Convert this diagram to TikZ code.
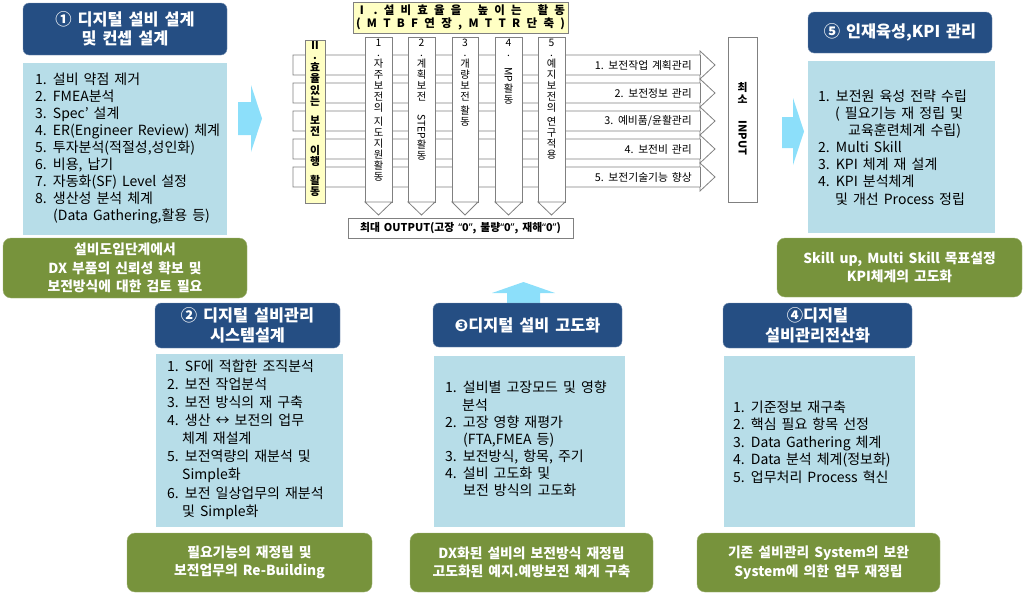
\documentclass[tikz,border=0pt]{standalone}
\usepackage{fontspec}
\setmainfont[WordSpace=1.6]{Noto Sans CJK KR}
\newfontfamily\dejavu{DejaVu Sans}
\newfontfamily\latinq{Noto Sans}
\definecolor{hdrblue}{RGB}{37,78,131}
\definecolor{boxblue}{RGB}{183,221,232}
\definecolor{grn}{RGB}{119,147,60}
\definecolor{cyanarr}{RGB}{140,223,250}
\definecolor{yel}{RGB}{255,255,196}
\definecolor{lgray}{RGB}{128,128,128}
\newcommand{\gp}{\hspace{0pt plus 1fil}}
\newcommand{\wg}{\hspace{0pt plus 2.6fil}}
\tikzset{
  hdr/.style={fill=hdrblue, draw=hdrblue!60!white, rounded corners=6pt, text=white,
    font=\fontsize{16.3}{19.5}\selectfont\bfseries, align=center, inner sep=0},
  bluebox/.style={fill=boxblue, draw=white, inner sep=0},
  grnbox/.style={fill=grn, draw=grn!70!white, rounded corners=8pt, text=white,
    font=\fontsize{13.8}{18.5}\selectfont\bfseries, align=center, inner sep=0},
  body/.style={align=left, anchor=west, inner sep=0, font=\fontsize{14}{17.1}\selectfont},
  flow/.style={draw=lgray, fill=white, line width=0.8pt},
  coltext/.style={align=center, anchor=north, inner sep=0, font=\fontsize{10.3}{11}\selectfont},
  barlabel/.style={anchor=east, inner sep=0, font=\fontsize{10.8}{11}\selectfont},
  bigarrow/.style={fill=cyanarr, draw=none}
}
\begin{document}
\begin{tikzpicture}[x=1pt,y=-1pt]
\useasboundingbox (0,0) rectangle (1024,595);

% ---------- module 1 ----------
\node[bluebox, minimum width=205pt, minimum height=173pt] (b1) at (124.5,148.5) {};
\node[hdr, minimum width=204pt, minimum height=52pt] (h1) at (125,29) {① 디지털 설비 설계\\및 컨셉 설계};
\node[grnbox, minimum width=244pt, minimum height=60pt] (g1) at (125,268) {설비도입단계에서\\DX 부품의 신뢰성 확보 및\\보전방식에 대한 검토 필요};
\node[body] (t1) at (35,148.5) {1. 설비 약점 제거\\2. FMEA분석\\3. Spec’ 설계\\4. ER(Engineer Review) 체계\\5. 투자분석(적절성,성인화)\\6. 비용, 납기\\7. 자동화(SF) Level 설정\\8. 생산성 분석 체계\\\hspace*{18pt}(Data Gathering,활용 등)};

% arrow 1
\path[bigarrow] (238,102) -- (251,102) -- (251,85) -- (262,118.5) -- (251,152) -- (251,135) -- (238,135) -- cycle;

% ---------- module 5 ----------
\node[bluebox, minimum width=188pt, minimum height=173pt] (b5) at (901,146.5) {};
\node[hdr, minimum width=184pt, minimum height=41pt] (h5) at (900,32.5) {⑤ 인재육성,KPI 관리};
\node[grnbox, minimum width=245pt, minimum height=59pt] (g5) at (899.5,267.5) {Skill up, Multi Skill 목표설정\\KPI체계의 고도화};
\node[body] (t5) at (818,147.5) {1. 보전원 육성 전략 수립\\\hspace*{17pt}( 필요기능 재 정립 및\\\hspace*{30pt}교육훈련체계 수립)\\2. Multi Skill\\3. KPI 체계 재 설계\\4. KPI 분석체계\\\hspace*{17pt}및 개선 Process 정립};

% arrow 2
\path[bigarrow] (782,117) -- (793,117) -- (793,98) -- (804,131.5) -- (793,165) -- (793,148) -- (782,148) -- cycle;

% ---------- module 2 ----------
\node[bluebox, minimum width=188pt, minimum height=174pt] (b2) at (249,440) {};
\node[hdr, minimum width=185pt, minimum height=45pt] (h2) at (247.5,325.5) {② 디지털 설비관리\\시스템설계};
\node[grnbox, minimum width=245pt, minimum height=59pt] (g2) at (249.5,562.5) {필요기능의 재정립 및\\보전업무의 Re-Building};
\node[body, font=\fontsize{14}{18.1}\selectfont] (t2) at (167,439.5) {1. SF에 적합한 조직분석\\2. 보전 작업분석\\3. 보전 방식의 재 구축\\4. 생산 ↔ 보전의 업무\\\hspace*{15pt}체계 재설계\\5. 보전역량의 재분석 및\\\hspace*{15pt}Simple화\\6. 보전 일상업무의 재분석\\\hspace*{15pt}및 Simple화};

% ---------- module 3 ----------
\path[bigarrow] (507,305) -- (507,293) -- (492,293) -- (523.5,282) -- (555,293) -- (540,293) -- (540,305) -- cycle;
\node[bluebox, minimum width=192pt, minimum height=172pt] (b3) at (529,441) {};
\node[hdr, minimum width=189pt, minimum height=44pt] (h3) at (527.5,325) {{\dejavu ❸}디지털 설비 고도화};
\node[grnbox, minimum width=243pt, minimum height=59pt] (g3) at (531.5,562.5) {DX화된 설비의 보전방식 재정립\\고도화된 예지.예방보전 체계 구축};
\node[body] (t3) at (445,439) {1. 설비별 고장모드 및 영향\\\hspace*{17pt}분석\\2. 고장 영향 재평가\\\hspace*{18pt}(FTA,FMEA 등)\\3. 보전방식, 항목, 주기\\4. 설비 고도화 및\\\hspace*{18pt}보전 방식의 고도화};

% ---------- module 4 ----------
\node[bluebox, minimum width=192pt, minimum height=172pt] (b4) at (819,441) {};
\node[hdr, minimum width=189pt, minimum height=45pt] (h4) at (817.5,325.5) {④디지털\\설비관리전산화};
\node[grnbox, minimum width=243pt, minimum height=59pt] (g4) at (818.5,562.5) {기존 설비관리 System의 보완\\System에 의한 업무 재정립};
\node[body, font=\fontsize{14}{17.5}\selectfont] (t4) at (733,442) {1. 기준정보 재구축\\2. 핵심 필요 항목 선정\\3. Data Gathering 체계\\4. Data 분석 체계(정보화)\\5. 업무처리 Process 혁신};

% ---------- centre diagram ----------
% horizontal bars
\foreach \c in {65,93,121,149,177}{
  \draw[flow] (293,\c-10) -- (700,\c-10) -- (700,\c-14) -- (715,\c) -- (700,\c+14) -- (700,\c+10) -- (293,\c+10) -- cycle;
  \draw[lgray, line width=0.8pt] (700,\c-10) -- (700,\c+10);
}
\node[barlabel] (l1) at (692,65) {1. 보전작업 계획관리};
\node[barlabel] (l2) at (692,93) {2. 보전정보 관리};
\node[barlabel] (l3) at (692,121) {3. 예비품/윤활관리};
\node[barlabel] (l4) at (692,149) {4. 보전비 관리};
\node[barlabel] (l5) at (692,177) {5. 보전기술기능 향상};

% vertical columns
\foreach \xa/\xb in {365/392,408/435,452/478,495/522,538/565}{
  \draw[flow] (\xa,37) rectangle (\xb,202);
  \draw[flow] (\xa,202) -- ({(\xa+\xb)/2},215) -- (\xb,202) -- cycle;
}
\node[coltext] (c1) at (378.5,39) {1\\[-1pt].\\자\\주\\보\\전\\의\\[3pt]지\\도\\지\\원\\활\\동};
\node[coltext] (c2) at (421.5,39) {2\\[-1pt].\\계\\획\\보\\전\\[3pt]\rotatebox{-90}{STEP}\\활\\동};
\node[coltext] (c3) at (465,39) {3\\[-1pt].\\개\\량\\보\\전\\[3pt]활\\동};
\node[coltext] (c4) at (508.5,39) {4\\[-1pt].\\\rotatebox{-90}{MP}\\활\\동};
\node[coltext] (c5) at (551.5,39) {5\\[-1pt].\\예\\지\\보\\전\\의\\[3pt]연\\구\\적\\용};

% left yellow box
\node[draw=lgray, fill=yel, line width=0.6pt, minimum width=20pt, minimum height=163pt, inner sep=0] (lbox) at (315,121.5) {};
\node[align=center, anchor=north, inner sep=0, font=\fontsize{10.8}{11.5}\selectfont\bfseries] (ltext) at (315,41) {Ⅱ\\[-1pt].\\효\\율\\있\\는\\[7pt]보\\전\\[7pt]이\\행\\[7pt]활\\동};

% title box
\node[draw=lgray, fill=yel, line width=0.6pt, minimum width=215pt, minimum height=31pt, inner sep=0,
  align=center, font=\fontsize{11.5}{13}\selectfont\bfseries] (title) at (460.5,17.5)
  {\makebox[209pt][s]{Ⅰ\gp .\gp 설\gp 비\gp 효\gp 율\gp 을\wg 높\gp 이\gp 는\wg 활\gp 동}\\\makebox[209pt][s]{(\gp M\gp T\gp B\gp F\gp 연\gp 장\gp ,\gp M\gp T\gp T\gp R\gp 단\gp 축\gp )}};

% output box
\node[draw=lgray, fill=white, line width=0.8pt, minimum width=225pt, minimum height=20pt, inner sep=0,
  font=\fontsize{10.8}{12}\selectfont\bfseries] (out) at (460.5,228)
  {최대 OUTPUT(고장 {\latinq “}0{\latinq ”}, 불량{\latinq “}0{\latinq ”}, 재해{\latinq “}0{\latinq ”})};

% input box
\node[draw=lgray, fill=white, line width=0.8pt, minimum width=29pt, minimum height=165pt, inner sep=0] (inp) at (742.5,119.5) {};
\node[align=center, inner sep=0, font=\fontsize{10.8}{12}\selectfont\bfseries] (inptext) at (742.5,119) {최\\소\\[5pt]\rotatebox{-90}{INPUT}};
\end{tikzpicture}
\end{document}
